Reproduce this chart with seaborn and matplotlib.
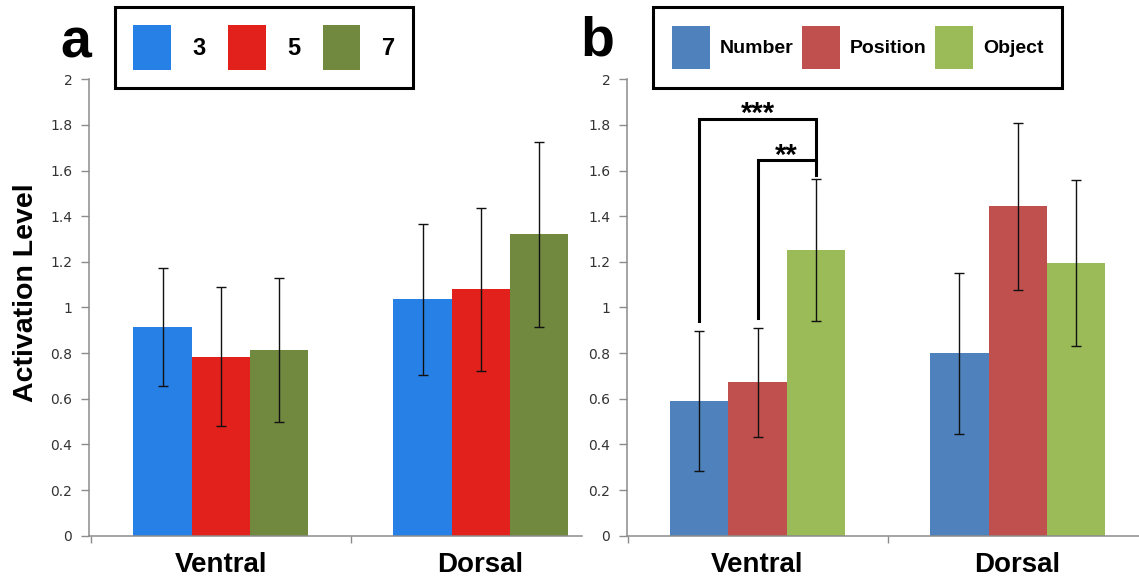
#!/usr/bin/env python3
import numpy as np
import pandas as pd
import matplotlib
matplotlib.use('Agg')
import matplotlib.pyplot as plt
import seaborn as sns
from matplotlib.ticker import FixedLocator, FuncFormatter

regions = ['Ventral', 'Dorsal']

# panel a: set size
a_levels = ['3', '5', '7']
a_means = [[0.915, 1.036], [0.784, 1.079], [0.815, 1.320]]
a_errs = [[0.260, 0.332], [0.304, 0.357], [0.316, 0.406]]
a_colors = ['#2680e6', '#e2211c', '#71883f']

# panel b: task
b_levels = ['Number', 'Position', 'Object']
b_means = [[0.590, 0.799], [0.672, 1.443], [1.253, 1.196]]
b_errs = [[0.308, 0.354], [0.238, 0.367], [0.311, 0.364]]
b_colors = ['#4f81bd', '#c0504d', '#9bbb59']

# significance brackets (ventral, panel b): left, right, stars, bracket height
sig_pairs = [('Number', 'Object', '***', 1.827), ('Position', 'Object', '**', 1.645)]

BOLD = 'Liberation Sans'
GRAY = '#8c8c8c'


def make_df(levels, means):
    rows = []
    for lev, vals in zip(levels, means):
        for reg, v in zip(regions, vals):
            rows.append({'region': reg, 'cond': lev, 'value': v})
    return pd.DataFrame(rows)


def draw_panel(ax, levels, means, errs, colors, xlim):
    df = make_df(levels, means)
    sns.barplot(data=df, x='region', y='value', hue='cond', order=regions,
                hue_order=levels, palette=colors, saturation=1, width=0.67,
                gap=0, errorbar=None, linewidth=0, ax=ax)
    pos = {}
    for lev, cont, e in zip(levels, ax.containers, errs):
        xs = [b.get_x() + b.get_width() / 2 for b in cont]
        ys = [b.get_height() for b in cont]
        ax.errorbar(xs, ys, yerr=e, fmt='none', ecolor='#111111',
                    elinewidth=1, capsize=3.3, capthick=1, zorder=3)
        pos[lev] = (xs, ys, e)

    ax.set_xlim(*xlim)
    ax.set_ylim(0, 2)
    ax.yaxis.set_major_locator(FixedLocator(np.arange(0, 2.01, 0.2)))
    ax.yaxis.set_major_formatter(FuncFormatter(lambda v, p: f'{v:.1f}'.rstrip('0').rstrip('.')))
    ax.xaxis.set_minor_locator(FixedLocator([-0.5, 0.5, 1.5]))
    ax.tick_params(axis='y', length=6, width=1, color=GRAY, labelsize=10,
                   labelcolor='#333333', pad=6)
    ax.tick_params(axis='x', which='major', length=0, pad=12)
    ax.tick_params(axis='x', which='minor', length=5, width=1, color=GRAY)
    for lab in ax.get_xticklabels():
        lab.set_fontfamily(BOLD)
        lab.set_fontweight('bold')
        lab.set_fontsize(20)
    for s in ['top', 'right']:
        ax.spines[s].set_visible(False)
    for s in ['left', 'bottom']:
        ax.spines[s].set_color(GRAY)
        ax.spines[s].set_linewidth(1.1)
    ax.set_xlabel('')
    ax.set_ylabel('')
    return pos


def redo_legend(ax, x, fontsize, hl, hh, htp, cs, bp):
    old = ax.get_legend()
    handles = old.legend_handles
    labels = [t.get_text() for t in old.get_texts()]
    old.remove()
    leg = ax.legend(handles, labels, loc='center', bbox_to_anchor=(x, 0.9177),
                    bbox_transform=fig.transFigure, ncol=3, frameon=True,
                    fancybox=False, framealpha=1, edgecolor='black',
                    prop={'family': BOLD, 'weight': 'bold', 'size': fontsize},
                    handlelength=hl, handleheight=hh, handletextpad=htp,
                    columnspacing=cs, borderpad=bp)
    leg.get_frame().set_linewidth(2.2)
    for h in leg.legend_handles:
        h.set_linewidth(0)


fig = plt.figure(figsize=(11.39, 5.77), dpi=100)
ax1 = fig.add_axes([0.07814, 0.07158, 0.43284, 0.79099])
ax2 = fig.add_axes([0.55048, 0.07158, 0.44952, 0.79099])

draw_panel(ax1, a_levels, a_means, a_errs, a_colors, (-0.506, 1.390))
pos = draw_panel(ax2, b_levels, b_means, b_errs, b_colors, (-0.502, 1.467))

ax1.set_ylabel('Activation Level', fontfamily=BOLD, fontweight='bold', fontsize=20.5)
ax1.yaxis.set_label_coords(-0.101, 0.532)

redo_legend(ax1, 0.2318, 17, 1.6, 2.557, 0.9, 0.95, 0.76)
redo_legend(ax2, 0.7529, 14, 1.95, 3.1, 0.5, 0.45, 0.95)

# significance brackets
for left, right, stars, top in sig_pairs:
    xl, yl, el = pos[left][0][0], pos[left][1][0], pos[left][2][0]
    xr, yr, er = pos[right][0][0], pos[right][1][0], pos[right][2][0]
    if stars == '***':
        ax2.plot([xl, xl, xr, xr], [yl + el + 0.044, top, top, yr + er + 0.018],
                 color='black', lw=2.2, solid_joinstyle='miter', zorder=4)
    else:
        ax2.plot([xl, xl, xr], [yl + el + 0.042, top, top],
                 color='black', lw=2.2, solid_joinstyle='miter', zorder=4)
    ax2.text((xl + xr) / 2, top - 0.014, stars, ha='center', va='baseline',
             fontfamily=BOLD, fontweight='bold', fontsize=21)

fig.text(76 / 1139, 1 - 58 / 577, 'a', ha='center', va='baseline',
         fontfamily=BOLD, fontweight='bold', fontsize=40)
fig.text(597 / 1139, 1 - 55 / 577, 'b', ha='center', va='baseline',
         fontfamily=BOLD, fontweight='bold', fontsize=40)

plt.savefig('out.png', dpi=100)
